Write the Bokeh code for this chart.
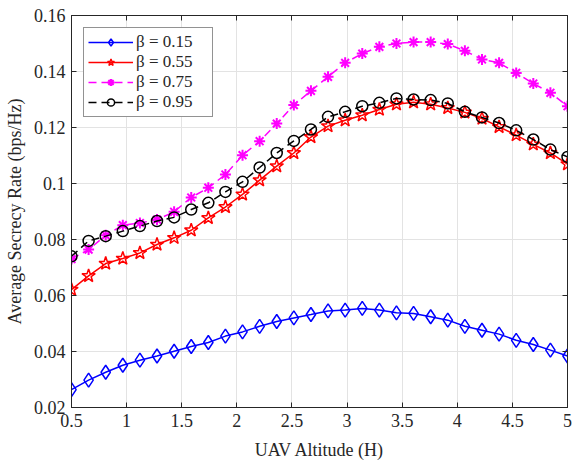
from bokeh.plotting import figure
from bokeh.models import FixedTicker, LinearAxis, Legend, LegendItem, Range1d, CustomLabelingPolicy
from bokeh.embed import file_html
from bokeh.resources import INLINE
import numpy as np

x = np.linspace(0.5, 5, 30).tolist()

beta_015 = [0.0264, 0.0298, 0.0326, 0.0351, 0.0369, 0.0384, 0.0401, 0.0418, 0.0432, 0.0455,
            0.0470, 0.0490, 0.0507, 0.0520, 0.0532, 0.0545, 0.0548, 0.0554, 0.0548, 0.0538,
            0.0536, 0.0524, 0.0512, 0.0490, 0.0476, 0.0462, 0.0440, 0.0425, 0.0405, 0.0384]
beta_055 = [0.0621, 0.0670, 0.0714, 0.0732, 0.0752, 0.0782, 0.0806, 0.0833, 0.0877, 0.0916,
            0.0961, 0.1012, 0.1062, 0.1109, 0.1166, 0.1205, 0.1226, 0.1244, 0.1264, 0.1283,
            0.1290, 0.1283, 0.1270, 0.1254, 0.1232, 0.1202, 0.1173, 0.1140, 0.1109, 0.1069]
beta_075 = [0.0730, 0.0764, 0.0815, 0.0851, 0.0859, 0.0871, 0.0899, 0.0950, 0.0985, 0.1032,
            0.1101, 0.1151, 0.1214, 0.1280, 0.1331, 0.1381, 0.1431, 0.1464, 0.1488, 0.1500,
            0.1505, 0.1505, 0.1498, 0.1474, 0.1443, 0.1431, 0.1395, 0.1357, 0.1324, 0.1276]
beta_095 = [0.0740, 0.0795, 0.0812, 0.0830, 0.0848, 0.0866, 0.0879, 0.0907, 0.0931, 0.0970,
            0.1006, 0.1057, 0.1109, 0.1152, 0.1193, 0.1238, 0.1256, 0.1276, 0.1288, 0.1304,
            0.1300, 0.1298, 0.1286, 0.1256, 0.1236, 0.1216, 0.1190, 0.1157, 0.1121, 0.1095]

x_ticks = [0.5, 1, 1.5, 2, 2.5, 3, 3.5, 4, 4.5, 5]
x_tick_labels = ["0.5", "1", "1.5", "2", "2.5", "3", "3.5", "4", "4.5", "5"]
y_ticks = [0.02, 0.04, 0.06, 0.08, 0.10, 0.12, 0.14, 0.16]
y_tick_labels = ["0.02", "0.04", "0.06", "0.08", "0.1", "0.12", "0.14", "0.16"]
labels = ["\u03b2 = 0.15", "\u03b2 = 0.55", "\u03b2 = 0.75", "\u03b2 = 0.95"]

FONT = "Liberation Serif"
AX = "#262626"

p = figure(width=572, height=463, output_backend="svg", toolbar_location=None,
           x_range=Range1d(0.5, 5), y_range=Range1d(0.02, 0.16),
           min_border_left=71, min_border_top=15, min_border_bottom=56, min_border_right=4)
p.outline_line_color = AX
p.outline_line_width = 1
p.background_fill_color = "white"
p.border_fill_color = "white"

for ax in p.xaxis:
    ax.ticker = FixedTicker(ticks=x_ticks)
    ax.major_label_overrides = {t: l for t, l in zip(x_ticks, x_tick_labels)}
for ax in p.yaxis:
    ax.ticker = FixedTicker(ticks=y_ticks)
    ax.major_label_overrides = {t: l for t, l in zip(y_ticks, y_tick_labels)}

for ax in list(p.xaxis) + list(p.yaxis):
    ax.major_tick_in = 5
    ax.major_tick_out = 0
    ax.minor_tick_in = 0
    ax.minor_tick_out = 0
    ax.axis_line_color = AX
    ax.major_tick_line_color = AX
    ax.major_label_text_font = FONT
    ax.major_label_text_font_size = "18px"
    ax.major_label_text_color = AX
    ax.axis_label_text_font = FONT
    ax.axis_label_text_font_size = "18px"
    ax.axis_label_text_font_style = "normal"
    ax.axis_label_text_color = AX

p.xaxis.axis_label = "UAV Altitude (H)"
p.yaxis.axis_label = "Average Secrecy Rate (bps/Hz)"
p.xaxis.major_label_standoff = 6
p.yaxis.major_label_standoff = 6
p.xaxis.axis_label_standoff = 10
p.yaxis.axis_label_standoff = 6

no_labels = CustomLabelingPolicy(code="""
for (let i = 0; i < indices.size; i++) { indices.unset(i) }
return indices
""")
top = LinearAxis(ticker=FixedTicker(ticks=x_ticks), major_label_policy=no_labels,
                 major_label_text_font_size="1px",
                 major_tick_in=5, major_tick_out=0, minor_tick_in=0, minor_tick_out=0,
                 axis_line_color=AX, major_tick_line_color=AX, major_label_standoff=0)
right = LinearAxis(ticker=FixedTicker(ticks=y_ticks), major_label_policy=no_labels,
                   major_label_text_font_size="1px",
                   major_tick_in=5, major_tick_out=0, minor_tick_in=0, minor_tick_out=0,
                   axis_line_color=AX, major_tick_line_color=AX, major_label_standoff=0)
p.add_layout(top, "above")
p.add_layout(right, "right")

p.xgrid.grid_line_color = "#e3e3e3"
p.ygrid.grid_line_color = "#e3e3e3"
p.xgrid.ticker = FixedTicker(ticks=x_ticks)
p.ygrid.ticker = FixedTicker(ticks=y_ticks)

items = []
l1 = p.line(x, beta_015, line_color="#0000ff", line_width=1.5)
m1 = p.scatter(x, beta_015, marker="diamond", size=14, line_color="#0000ff", line_width=1.5,
               fill_color=None)
items.append(LegendItem(label=labels[0], renderers=[l1, m1]))

l2 = p.line(x, beta_055, line_color="#ff0000", line_width=1.5)
m2 = p.scatter(x, beta_055, marker="star", size=14, line_color="#ff0000", line_width=1.5,
               fill_color=None)
items.append(LegendItem(label=labels[1], renderers=[l2, m2]))

l3 = p.line(x, beta_075, line_color="#ff00ff", line_width=1.5, line_dash="8 5")
m3 = p.scatter(x, beta_075, marker="asterisk", size=11, line_color="#ff00ff", line_width=2)
items.append(LegendItem(label=labels[2], renderers=[l3, m3]))

l4 = p.line(x, beta_095, line_color="#000000", line_width=1.5, line_dash="8 5")
m4 = p.scatter(x, beta_095, marker="circle", size=11, line_color="#000000", line_width=1.5,
               fill_color=None)
items.append(LegendItem(label=labels[3], renderers=[l4, m4]))

legend = Legend(items=items, location="top_left")
legend.label_text_font = FONT
legend.label_text_font_size = "17px"
legend.label_text_color = AX
legend.border_line_color = AX
legend.border_line_width = 1
legend.background_fill_color = "white"
legend.background_fill_alpha = 1
legend.margin = 12
legend.padding = 4
legend.spacing = 0
legend.label_height = 18
legend.glyph_height = 18
legend.glyph_width = 45
legend.label_width = 72
legend.label_standoff = 3
p.add_layout(legend)

open("out.html", "w").write(file_html(p, INLINE))
